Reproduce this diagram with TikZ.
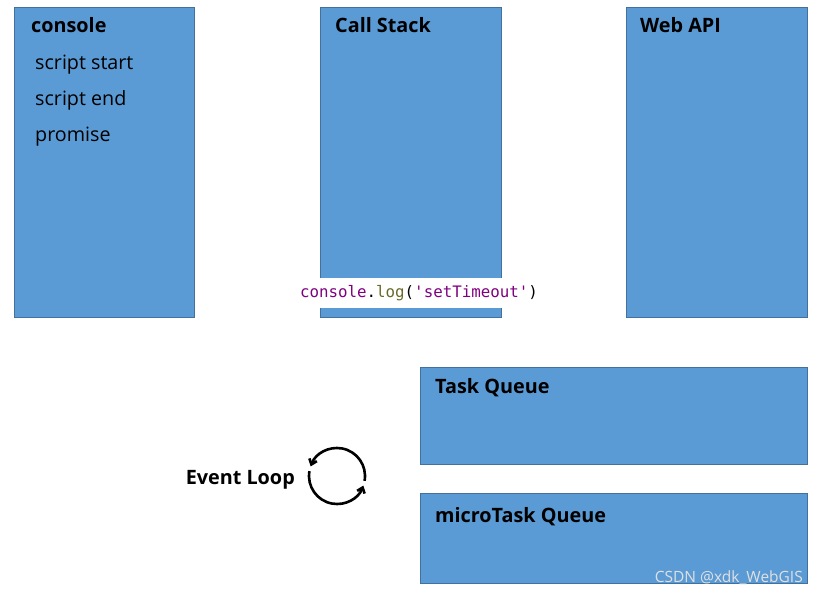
\documentclass[tikz,border=0pt]{standalone}
\usepackage{fontspec}
\setmainfont{Open Sans}
\setmonofont{DejaVu Sans Mono}
\usetikzlibrary{calc}
\usetikzlibrary{arrows.meta}
\definecolor{boxblue}{HTML}{5B9BD5}
\definecolor{boxline}{HTML}{41719C}
\definecolor{jspurple}{HTML}{800080}
\definecolor{jsolive}{HTML}{6A6A2A}

\begin{document}
\begin{tikzpicture}[x=1pt,y=-1pt,
    panel/.style={draw=boxline,fill=boxblue,line width=0.8pt,anchor=north west,inner sep=0pt},
    ttl/.style={anchor=base west,inner sep=0pt,font=\bfseries\fontsize{19.8}{22}\selectfont},
    itm/.style={anchor=base west,inner sep=0pt,font=\fontsize{19.7}{22}\selectfont}]

      \useasboundingbox (0,0) rectangle (819,593);

      \node[panel,minimum width=180pt,minimum height=310pt] (cons) at (14,7) {};
      \node[panel,minimum width=181pt,minimum height=310pt] (stack) at (320,7) {};
      \node[panel,minimum width=181pt,minimum height=310pt] (webapi) at (626,7) {};
      \node[panel,minimum width=387pt,minimum height=97pt] (tq) at (420,367) {};
      \node[panel,minimum width=387pt,minimum height=90pt] (mtq) at (420,493) {};

      \node[ttl] (consa) at ($(cons.north west)+(17,25.5)$) {console};
      \node[itm] (consb) at ($(cons.north west)+(21,62.5)$) {script start};
      \node[itm] (consc) at ($(cons.north west)+(21,98.5)$) {script end};
      \node[itm] (consd) at ($(cons.north west)+(21,134.5)$) {promise};
      \node[ttl] (stacka) at ($(stack.north west)+(15,25.5)$) {Call Stack};
      \node[ttl] (webapia) at ($(webapi.north west)+(14,25.5)$) {Web API};
      \node[ttl] (tqa) at ($(tq.north west)+(15,26.5)$) {Task Queue};
      \node[ttl] (mtqa) at ($(mtq.north west)+(15,29.5)$) {microTask Queue};

      % log line laid over the stack box
      \node[fill=white,inner xsep=4pt,inner ysep=7pt,font=\ttfamily\fontsize{15.8}{18}\selectfont]
        (logline) at (419,293)
        {\textcolor{jspurple}{console}.\textcolor{jsolive}{log}(\textcolor{jspurple}{'setTimeout'})};

      \node[ttl,anchor=base east] (evloop) at (295,484) {Event Loop};
      \coordinate (loopc) at (337,476);
      \draw [-{Straight Barb[length=5pt,width=8pt]}, line width=2.6pt, black] ($(loopc)+(10:28)$) arc[start angle=10, end angle=-160, radius=28];
      \draw [-{Straight Barb[length=5pt,width=8pt]}, line width=2.6pt, black] ($(loopc)+(-170:28)$) arc[start angle=-170, end angle=-340, radius=28];

      \node[anchor=base east,inner sep=0pt,text=white!88!black,font=\fontsize{15.5}{17}\selectfont] (mark) at (803,582) {CSDN @xdk\_WebGIS};
    \end{tikzpicture}
\end{document}
